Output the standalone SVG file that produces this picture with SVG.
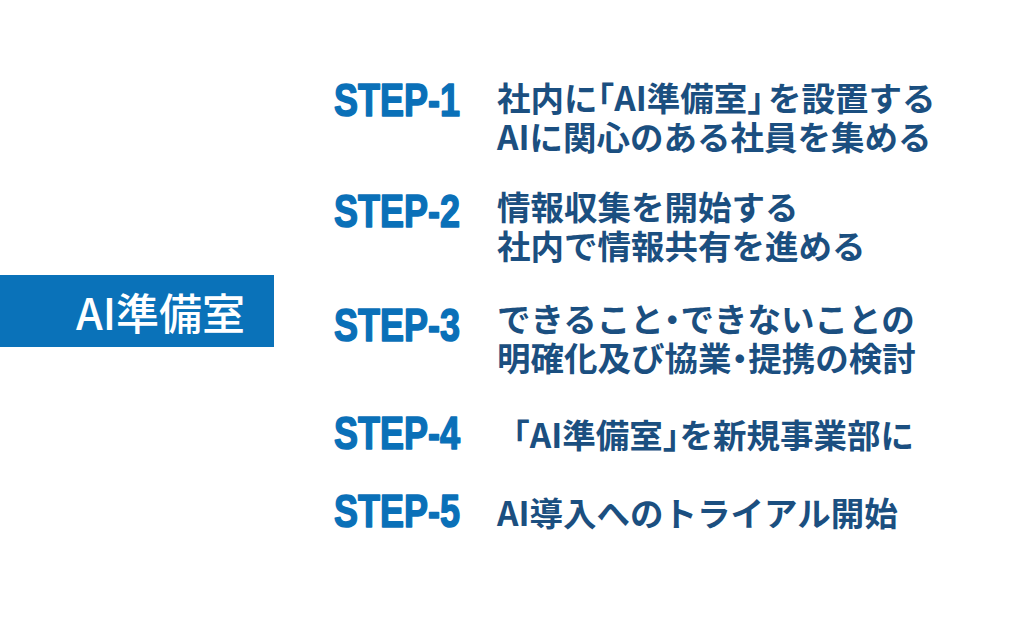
<svg xmlns="http://www.w3.org/2000/svg" width="1024" height="640" viewBox="0 0 1024 640">
<style>
.step{font-family:"Liberation Sans","Arial",sans-serif;font-weight:bold;font-size:46px;fill:#0a70b8;stroke:#0a70b8;stroke-width:1.6px;stroke-linejoin:round}
.jp{font-family:"Noto Sans CJK JP","Noto Sans",sans-serif;font-weight:700;font-size:33.5px;fill:#1b4f80;font-feature-settings:"halt" 1}
.title{font-family:"Noto Sans CJK JP","Noto Sans",sans-serif;font-weight:500;font-size:43px;fill:#ffffff}
</style>
<rect width="1024" height="640" fill="#ffffff"/>
<g id="node-ai-room">
<rect x="0" y="275" width="274" height="72" fill="#0a72b9"/>
<text class="title" x="76" y="330">AI準備室</text>
</g>
<g id="step-1">
<text class="step" x="334" y="116" textLength="126" lengthAdjust="spacingAndGlyphs">STEP-1</text>
<text class="jp" x="497" y="111">社内に「AI準備室」<tspan dx="4">を設置する</tspan></text>
<text class="jp" x="497" y="150">AIに関心のある社員を集める</text>
</g>
<g id="step-2">
<text class="step" x="334" y="227" textLength="126" lengthAdjust="spacingAndGlyphs">STEP-2</text>
<text class="jp" x="497" y="220">情報収集を開始する</text>
<text class="jp" x="497" y="259">社内で情報共有を進める</text>
</g>
<g id="step-3">
<text class="step" x="334" y="341" textLength="126" lengthAdjust="spacingAndGlyphs">STEP-3</text>
<text class="jp" x="497" y="332">できること・できないことの</text>
<text class="jp" x="497" y="371">明確化及び協業・提携の検討</text>
</g>
<g id="step-4">
<text class="step" x="334" y="449" textLength="126" lengthAdjust="spacingAndGlyphs">STEP-4</text>
<text class="jp" x="513" y="448">「AI準備室」を新規事業部に</text>
</g>
<g id="step-5">
<text class="step" x="334" y="527" textLength="126" lengthAdjust="spacingAndGlyphs">STEP-5</text>
<text class="jp" x="497" y="526">AI導入へのトライアル開始</text>
</g>
<g id="connectors"/>
</svg>
